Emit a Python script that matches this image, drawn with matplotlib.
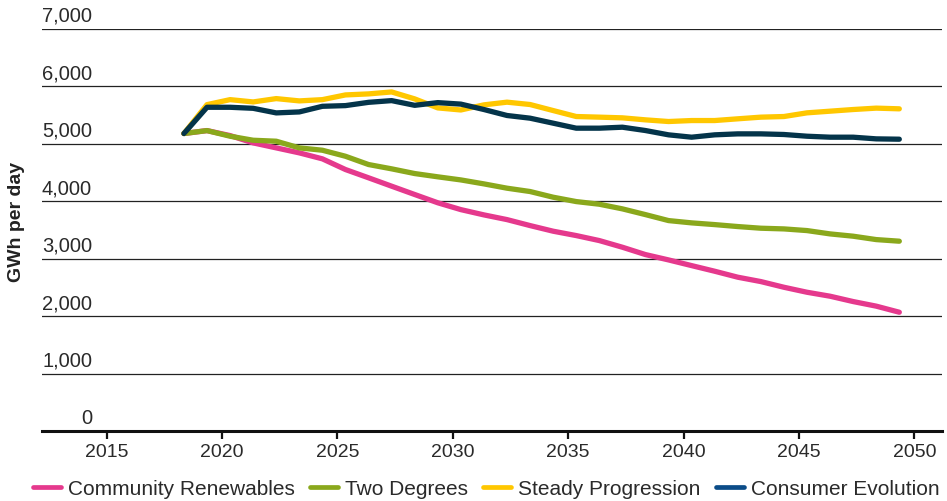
import matplotlib
matplotlib.use("Agg")
import matplotlib.pyplot as plt
from matplotlib.lines import Line2D
import numpy as np

plt.rcParams['font.family'] = ['Liberation Sans', 'DejaVu Sans']

years = np.arange(2018, 2050)
x_offset = 0.35  # points sit slightly after the year tick

community_renewables = [5180, 5231, 5144, 5017, 4930, 4843, 4739, 4553, 4409, 4263,
                        4118, 3974, 3855, 3763, 3681, 3577, 3479, 3403, 3316, 3200,
                        3072, 2979, 2880, 2782, 2678, 2602, 2503, 2416, 2347, 2254,
                        2174, 2068]
two_degrees = [5180, 5231, 5133, 5063, 5046, 4930, 4889, 4784, 4640, 4565,
               4483, 4426, 4372, 4303, 4228, 4170, 4071, 3995, 3949, 3868,
               3768, 3664, 3624, 3594, 3560, 3531, 3519, 3490, 3432, 3392,
               3333, 3305]
steady_progression = [5180, 5683, 5770, 5730, 5788, 5748, 5770, 5852, 5870, 5904,
                      5783, 5626, 5590, 5679, 5726, 5685, 5580, 5476, 5465, 5453,
                      5418, 5389, 5406, 5406, 5436, 5465, 5476, 5540, 5569, 5598,
                      5622, 5610]
consumer_evolution = [5180, 5637, 5637, 5619, 5539, 5556, 5654, 5666, 5723, 5753,
                      5671, 5718, 5692, 5598, 5494, 5447, 5360, 5273, 5273, 5290,
                      5232, 5157, 5116, 5157, 5174, 5174, 5163, 5133, 5116, 5116,
                      5087, 5081]

series_names = ["Community Renewables", "Two Degrees", "Steady Progression", "Consumer Evolution"]
series_values = [community_renewables, two_degrees, steady_progression, consumer_evolution]
line_colors = ["#E5398D", "#8AA81C", "#FFC700", "#04344A"]
legend_colors = ["#E5398D", "#8AA81C", "#FFC700", "#0B4C88"]

y_ticks = [0, 1000, 2000, 3000, 4000, 5000, 6000, 7000]
y_tick_labels = ["0", "1,000", "2,000", "3,000", "4,000", "5,000", "6,000", "7,000"]
x_ticks = [2015, 2020, 2025, 2030, 2035, 2040, 2045, 2050]

W, H = 947, 502
fig = plt.figure(figsize=(W / 100, H / 100), dpi=100)
ax = fig.add_axes([42 / W, (H - 432) / H, (942 - 42) / W, (432 - 30) / H])

for vals, col in zip(series_values, line_colors):
    ax.plot(years + x_offset, vals, color=col, lw=3.8, solid_capstyle='round',
            solid_joinstyle='round', zorder=3)

ax.set_xlim(2012.2, 2051.2)
ax.set_ylim(0, 7000)

# gridlines
for yv in y_ticks[1:]:
    ax.axhline(yv, color='#222222', lw=0.9, zorder=1)

# y labels inside plot above gridlines
trans = matplotlib.transforms.blended_transform_factory(ax.transAxes, ax.transData)
for yv, lab in zip(y_ticks, y_tick_labels):
    ax.text((92 - 42) / (942 - 42), yv + 70, lab, transform=trans, ha='right', va='bottom',
            fontsize=14.5, color='#2a2a2a')

ax.set_yticks([])
ax.set_xticks(x_ticks)
ax.set_xticklabels([str(t) for t in x_ticks], fontsize=14, color='#2a2a2a')
ax.tick_params(axis='x', length=6, width=1.6, color='#111111', pad=3)

for s in ['top', 'right', 'left']:
    ax.spines[s].set_visible(False)
ax.spines['bottom'].set_linewidth(2.2)
ax.spines['bottom'].set_color('#111111')

fig.text(17 / W, 1 - 222 / H, "GWh per day", rotation=90, ha='center', va='center',
         fontsize=14, fontweight='bold', color='#222222')

handles = [Line2D([0], [0], color=c, lw=3.4, solid_capstyle='round') for c in legend_colors]
fig.legend(handles, series_names, loc='center', bbox_to_anchor=(486 / W, 1 - 490 / H),
           ncol=4, frameon=False, fontsize=15, handlelength=1.35, handletextpad=0.34,
           columnspacing=0.72, borderaxespad=0, borderpad=0, labelcolor='#2a2a2a')

fig.savefig("out.png", dpi=100)
